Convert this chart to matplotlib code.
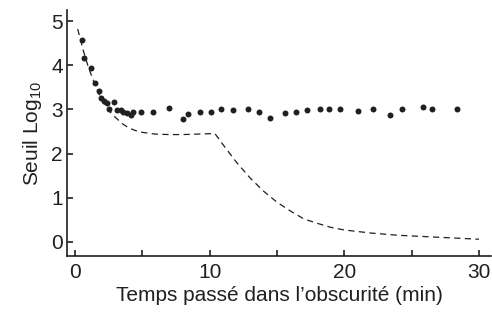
import matplotlib
matplotlib.use("Agg")
import matplotlib.pyplot as plt
from matplotlib.ticker import MultipleLocator

plt.rcParams['font.family'] = ['Liberation Sans', 'DejaVu Sans']

# measured thresholds (dots)
dot_t = [0.50, 0.67, 1.19, 1.51, 1.76, 1.93, 2.13, 2.40, 2.53, 2.90, 3.15, 3.42,
         3.59, 3.84, 4.14, 4.34, 4.91, 5.80, 6.96, 8.00, 8.38, 9.29, 10.09, 10.86,
         11.75, 12.84, 13.70, 14.50, 15.61, 16.45, 17.25, 18.22, 18.86, 19.68,
         21.04, 22.16, 23.37, 24.26, 25.85, 26.54, 28.40]
dot_log = [4.57, 4.17, 3.94, 3.60, 3.42, 3.25, 3.20, 3.15, 3.02, 3.16, 2.99, 2.99,
           2.93, 2.91, 2.87, 2.94, 2.93, 2.94, 3.03, 2.78, 2.90, 2.94, 2.93, 3.00,
           2.98, 3.00, 2.95, 2.81, 2.91, 2.95, 2.99, 3.00, 3.00, 3.01,
           2.96, 3.02, 2.88, 3.01, 3.05, 3.02, 3.01]

# normal dark adaptation curve (dashed)
curve_t = [0.2, 0.6, 1.0, 1.5, 2.0, 2.5, 3.0, 3.5, 4.0, 4.5, 5.0, 6.0, 7.0, 8.0,
           9.0, 10.0, 10.4, 11.0, 12.0, 13.0, 14.0, 15.0, 16.0, 17.0, 18.0, 19.0,
           20.0, 22.0, 24.0, 26.0, 28.0, 30.0]
curve_log = [4.82, 4.35, 3.95, 3.55, 3.20, 2.98, 2.82, 2.68, 2.58, 2.52, 2.48, 2.44,
             2.43, 2.43, 2.44, 2.45, 2.45, 2.20, 1.80, 1.45, 1.15, 0.90, 0.70, 0.52,
             0.42, 0.33, 0.27, 0.20, 0.15, 0.12, 0.09, 0.06]

ink = "#231f20"

fig = plt.figure(figsize=(4.92, 3.13), dpi=100)
ax = fig.add_axes([0.136, 0.182, 0.862, 0.786])

ax.plot(curve_t, curve_log, linestyle=(0, (5, 3.5)), color=ink, linewidth=0.9)
ax.plot(dot_t, dot_log, "o", color=ink, markersize=4.3, markeredgewidth=0)

ax.set_xlim(-0.6, 30.9)
ax.set_ylim(-0.32, 5.25)
ax.spines['top'].set_visible(False)
ax.spines['right'].set_visible(False)
for s in ('left', 'bottom'):
    ax.spines[s].set_linewidth(1.2)
    ax.spines[s].set_color(ink)

ax.xaxis.set_major_locator(MultipleLocator(10))
ax.xaxis.set_minor_locator(MultipleLocator(5))
ax.yaxis.set_major_locator(MultipleLocator(1))
ax.tick_params(axis='both', which='both', direction='in', length=4, width=1.2,
               colors=ink, labelsize=15)
ax.tick_params(axis='x', pad=5)
ax.tick_params(axis='y', pad=3)

ax.set_xlabel("Temps passé dans l’obscurité (min)", fontsize=15, color=ink, labelpad=3)
ax.set_ylabel(r"Seuil Log$_{\mathregular{10}}$", fontsize=15, color=ink, labelpad=5)

fig.savefig("out.png", dpi=100)
